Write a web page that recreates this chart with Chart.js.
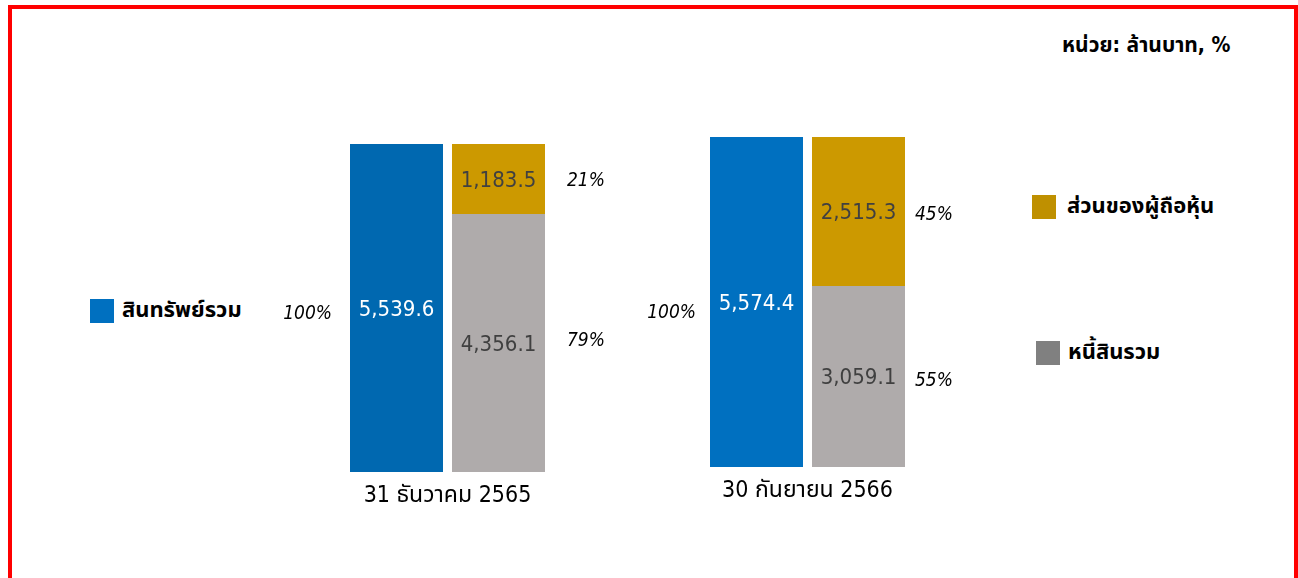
<!DOCTYPE html>
<html>
<head>
<meta charset="utf-8">
<script src="https://cdn.jsdelivr.net/npm/chart.js@4.4.0/dist/chart.umd.min.js"></script>
<style>
  body { margin: 0; width: 1298px; height: 578px; background: #fff; overflow: hidden;
         font-family: "DejaVu Sans Condensed", "DejaVu Sans", "Noto Sans Thai", "Noto Sans", sans-serif; }
  #frame { position: absolute; left: 8px; top: 5px; width: 1282px; height: 600px;
           border: 4px solid #ff0000; border-bottom: none; }
  .wrap { position: absolute; width: 360px; height: 400px; }
  .unit { position: absolute; left: 1062px; top: 30px; font-size: 21px; font-weight: bold; color: #000; }
  .leg { position: absolute; font-size: 22px; font-weight: bold; color: #000; display: flex; align-items: center; }
  .leg i { display: inline-block; width: 24px; height: 24px; margin-right: 8px; }
</style>
</head>
<body>
<div id="frame"></div>
<div class="unit">หน่วย: ล้านบาท, %</div>
<div class="leg" style="left:90px; top:294px;"><i style="background:#0070C0"></i>สินทรัพย์รวม</div>
<div class="leg" style="left:1032px; top:190px;"><i style="background:#BF9000; margin-right:11px"></i>ส่วนของผู้ถือหุ้น</div>
<div class="leg" style="left:1036px; top:336px;"><i style="background:#808080"></i>หนี้สินรวม</div>

<div class="wrap" style="left:270px; top:120px;"><canvas id="c1"></canvas></div>
<div class="wrap" style="left:630px; top:120px;"><canvas id="c2"></canvas></div>

<script>
// วันที่ของงบ
const periods = ['31 ธันวาคม 2565', '30 กันยายน 2566'];
// ล้านบาท
const totalAssets = [5539.6, 5574.4];
const totalLiabilities = [4356.1, 3059.1];
const shareholdersEquity = [1183.5, 2515.3];

const assetColors = ['#0068B0', '#0070C0'];

const fmt = v => v.toLocaleString('en-US', { minimumFractionDigits: 1, maximumFractionDigits: 1 });
const pct = (v, i) => Math.round(v / totalAssets[i] * 100) + '%';

// label offsets per chart
const gaps = [
  { left: 18, right: 22, dy100: 6, dyLiab: -2, dyEq: 2 },
  { left: 14, right: 10, dy100: 11, dyLiab: 5, dyEq: 4 }
];
const pads = [{ top: 24, bottom: 48 }, { top: 17, bottom: 53 }];

const FONT = '"DejaVu Sans Condensed", "DejaVu Sans", "Noto Sans Thai", "Noto Sans", sans-serif';

const labelPlugin = {
  id: 'labels',
  afterDatasetsDraw(chart) {
    const ctx = chart.ctx;
    const i = chart.options.plugins.labels.idx;
    const g = gaps[i];
    const assetBar = chart.getDatasetMeta(0).data[0];
    const liabBar = chart.getDatasetMeta(1).data[0];
    const eqBar = chart.getDatasetMeta(2).data[0];
    const mid = b => (b.y + b.base) / 2;
    ctx.save();
    ctx.textBaseline = 'middle';

    // values inside bars
    ctx.font = '22px ' + FONT;
    ctx.textAlign = 'center';
    ctx.fillStyle = '#ffffff';
    ctx.fillText(fmt(totalAssets[i]), assetBar.x, mid(assetBar) + 2);
    ctx.fillStyle = '#404040';
    ctx.fillText(fmt(totalLiabilities[i]), liabBar.x, mid(liabBar) + 2);
    ctx.fillText(fmt(shareholdersEquity[i]), eqBar.x, mid(eqBar) + 2);

    // percentages
    ctx.font = 'italic 19px ' + FONT;
    ctx.fillStyle = '#000';
    ctx.textAlign = 'right';
    ctx.fillText('100%', assetBar.x - assetBar.width / 2 - g.left, mid(assetBar) + g.dy100);
    ctx.textAlign = 'left';
    const rx = liabBar.x + liabBar.width / 2 + g.right;
    ctx.fillText(pct(totalLiabilities[i], i), rx, mid(liabBar) + g.dyLiab);
    ctx.fillText(pct(shareholdersEquity[i], i), rx, mid(eqBar) + g.dyEq);

    // period label
    ctx.font = '23px ' + FONT;
    ctx.fillStyle = '#000';
    ctx.textAlign = 'center';
    const cx = (assetBar.x - assetBar.width / 2 + liabBar.x + liabBar.width / 2) / 2;
    ctx.fillText(periods[i], cx, chart.chartArea.bottom + 24);
    ctx.restore();
  }
};

function makeChart(id, i) {
  new Chart(document.getElementById(id), {
    type: 'bar',
    data: {
      labels: [periods[i]],
      datasets: [
        { label: 'สินทรัพย์รวม', data: [totalAssets[i]], backgroundColor: assetColors[i], stack: 'a' },
        { label: 'หนี้สินรวม', data: [totalLiabilities[i]], backgroundColor: '#AFABAB', stack: 'b' },
        { label: 'ส่วนของผู้ถือหุ้น', data: [shareholdersEquity[i]], backgroundColor: '#CC9900', stack: 'b' }
      ]
    },
    options: {
      responsive: true,
      maintainAspectRatio: false,
      animation: false,
      categoryPercentage: 1,
      barPercentage: 93 / 102,
      layout: { padding: { left: 75.5, right: 80.5, top: pads[i].top, bottom: pads[i].bottom } },
      scales: {
        x: { display: false, stacked: true },
        y: { display: false, stacked: true, min: 0, max: totalAssets[i] }
      },
      plugins: {
        legend: { display: false },
        tooltip: { enabled: false },
        labels: { idx: i }
      }
    },
    plugins: [labelPlugin]
  });
}

makeChart('c1', 0);
makeChart('c2', 1);
</script>
</body>
</html>
